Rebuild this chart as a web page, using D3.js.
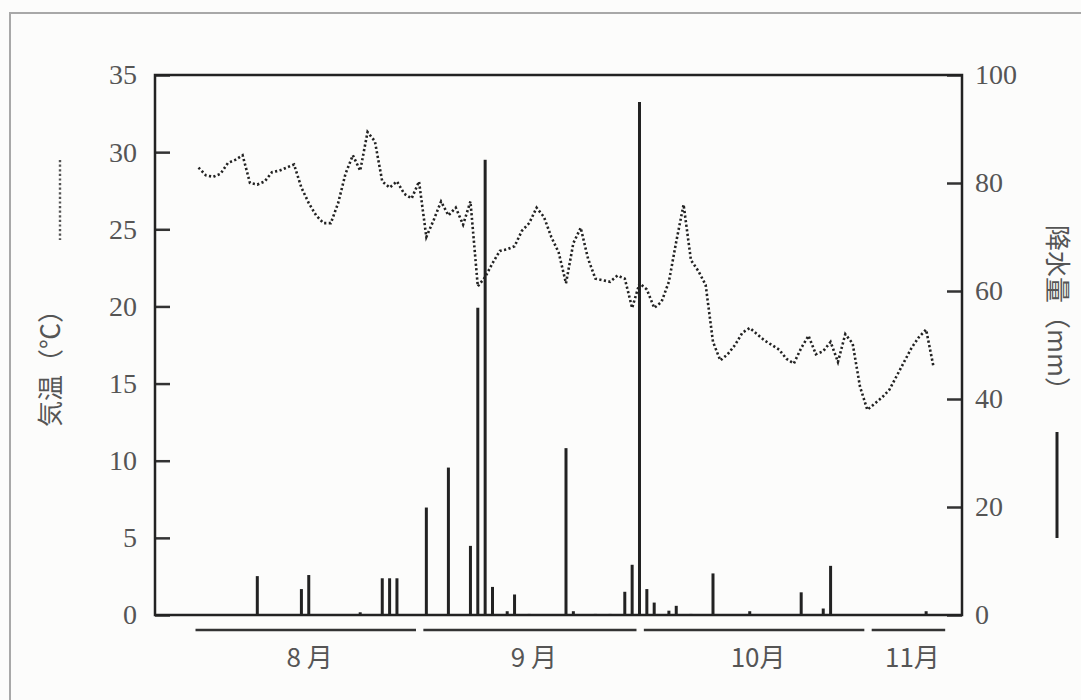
<!DOCTYPE html>
<html>
<head>
<meta charset="utf-8">
<title>気温と降水量</title>
<script src="https://cdn.jsdelivr.net/npm/d3@7"></script>
<style>
  body { margin: 0; background: #fcfcfb; }
</style>
</head>
<body>
<script>
// day index 0 = 8月1日
var tempValues = [
  29.0, 28.5, 28.4, 28.6, 29.3, 29.5, 29.8, 28.0, 27.9, 28.1,
  28.7, 28.8, 29.0, 29.2, 27.7, 26.7, 25.9, 25.4, 25.4, 26.7,
  28.6, 29.8, 28.8, 31.3, 30.7, 28.1, 27.7, 28.1, 27.3, 27.0,
  28.1, 24.5, 25.6, 26.8, 25.9, 26.4, 25.3, 26.8, 21.3, 21.9,
  22.8, 23.6, 23.7, 23.9, 24.9, 25.4, 26.4, 25.8, 24.5, 23.5,
  21.5, 24.1, 25.1, 23.1, 21.8, 21.7, 21.6, 22.0, 21.8, 19.9,
  21.5, 21.1, 19.9, 20.3, 21.6, 24.2, 26.6, 23.0, 22.3, 21.4,
  17.7, 16.5, 16.9, 17.5, 18.3, 18.6, 18.2, 17.8, 17.5, 17.2,
  16.6, 16.3, 17.3, 18.1, 16.9, 17.1, 17.7, 16.4, 18.2, 17.6,
  14.8, 13.3, 13.7, 14.1, 14.6, 15.5, 16.4, 17.3, 18.0, 18.5,
  16.1
];

var rainDays   = [8, 14, 15, 22, 25, 26, 27, 31, 34, 37, 38, 39, 40, 42, 43, 45, 50, 51, 54, 56,
                  58, 59, 60, 61, 62, 64, 65, 67, 70, 75, 82, 85, 86, 99];
var rainValues = [7.2, 4.8, 7.4, 0.5, 6.8, 6.8, 6.8, 19.9, 27.3, 12.8, 56.9, 84.3, 5.2, 0.7, 3.8, 0.2, 30.9, 0.7, 0.2, 0.2,
                  4.3, 9.3, 95.0, 4.8, 2.3, 0.8, 1.7, 0.2, 7.7, 0.7, 4.2, 1.2, 9.1, 0.7];

var months     = ['8 月', '9 月', '10月', '11月'];
var monthStart = [0, 31, 61, 92];
var monthEnd   = [30, 60, 91, 102];

var tempTicks = [0, 5, 10, 15, 20, 25, 30, 35];
var rainTicks = [0, 20, 40, 60, 80, 100];

var W = 1081, H = 700;
var plotL = 155, plotR = 962, plotT = 75, plotB = 615;

var svg = d3.select('body').append('svg')
  .attr('width', W)
  .attr('height', H);

// scan frame
svg.append('path')
  .attr('d', 'M10,' + H + ' V13 H' + W)
  .attr('fill', 'none')
  .attr('stroke', '#a8a8a8')
  .attr('stroke-width', 2);

var x = d3.scaleLinear().domain([-5.92, 103.88]).range([plotL, plotR]);
var yT = d3.scaleLinear().domain([0, 35]).range([plotB, plotT]);
var yR = d3.scaleLinear().domain([0, 100]).range([plotB, plotT]);

var serif = '"Liberation Serif", "DejaVu Serif", serif';
var cjk = '"Noto Sans CJK JP", "Noto Sans CJK SC", sans-serif';

// left axis: labels outside, ticks pointing in
var leftAxis = svg.append('g')
  .attr('transform', 'translate(' + plotL + ',0)')
  .call(d3.axisLeft(yT).tickValues(tempTicks).tickSizeInner(-15).tickSizeOuter(0)
    .tickPadding(18).tickFormat(d3.format('d')));
leftAxis.select('.domain').remove();
leftAxis.selectAll('.tick line')
  .attr('stroke', '#333')
  .attr('stroke-width', 2.5);
leftAxis.selectAll('text')
  .attr('font-family', serif)
  .attr('font-size', 28)
  .attr('fill', '#555');

// right axis
var rightAxis = svg.append('g')
  .attr('transform', 'translate(' + plotR + ',0)')
  .call(d3.axisRight(yR).tickValues(rainTicks).tickSizeInner(-15).tickSizeOuter(0)
    .tickPadding(13).tickFormat(d3.format('d')));
rightAxis.select('.domain').remove();
rightAxis.selectAll('.tick line')
  .attr('stroke', '#333')
  .attr('stroke-width', 2.5);
rightAxis.selectAll('text')
  .attr('font-family', serif)
  .attr('font-size', 28)
  .attr('fill', '#555');

// plot frame
svg.append('rect')
  .attr('x', plotL).attr('y', plotT)
  .attr('width', plotR - plotL).attr('height', plotB - plotT)
  .attr('fill', 'none')
  .attr('stroke', '#222')
  .attr('stroke-width', 2.5);

// rain bars
svg.append('g').selectAll('rect')
  .data(rainDays)
  .join('rect')
  .attr('x', function(d) { return x(d) - 1.5; })
  .attr('width', 3)
  .attr('y', function(d, i) { return yR(rainValues[i]); })
  .attr('height', function(d, i) { return plotB - yR(rainValues[i]); })
  .attr('fill', '#222');

// temperature line
var tempLine = d3.line()
  .x(function(d, i) { return x(i); })
  .y(function(d) { return yT(d); });

svg.append('path')
  .datum(tempValues)
  .attr('d', tempLine)
  .attr('fill', 'none')
  .attr('stroke', '#222')
  .attr('stroke-width', 2.6)
  .attr('stroke-dasharray', '2.2 2.4');

// month bars and labels
var mg = svg.append('g');
months.forEach(function(m, i) {
  var x1 = x(monthStart[i]) - 3, x2 = x(monthEnd[i]) - 3;
  mg.append('line')
    .attr('x1', x1).attr('x2', x2)
    .attr('y1', 630).attr('y2', 630)
    .attr('stroke', '#333')
    .attr('stroke-width', 2.5);
  mg.append('text')
    .attr('x', (x1 + x2) / 2 + 4)
    .attr('y', 667)
    .attr('text-anchor', 'middle')
    .attr('font-family', cjk)
    .attr('font-size', 26)
    .attr('fill', '#555')
    .text(m);
});

// axis titles and legend marks
svg.append('text')
  .attr('transform', 'translate(60,362) rotate(-90)')
  .attr('text-anchor', 'middle')
  .attr('font-family', cjk)
  .attr('font-size', 26)
  .attr('fill', '#555')
  .text('気温（℃）');

svg.append('line')
  .attr('x1', 60).attr('x2', 60)
  .attr('y1', 160).attr('y2', 240)
  .attr('stroke', '#555')
  .attr('stroke-width', 2.4)
  .attr('stroke-dasharray', '2.2 2.4');

svg.append('text')
  .attr('transform', 'translate(1048,314) rotate(90)')
  .attr('text-anchor', 'middle')
  .attr('font-family', cjk)
  .attr('font-size', 26)
  .attr('fill', '#555')
  .text('降水量（mm）');

svg.append('line')
  .attr('x1', 1057).attr('x2', 1057)
  .attr('y1', 432).attr('y2', 538)
  .attr('stroke', '#222')
  .attr('stroke-width', 3);
</script>
</body>
</html>
